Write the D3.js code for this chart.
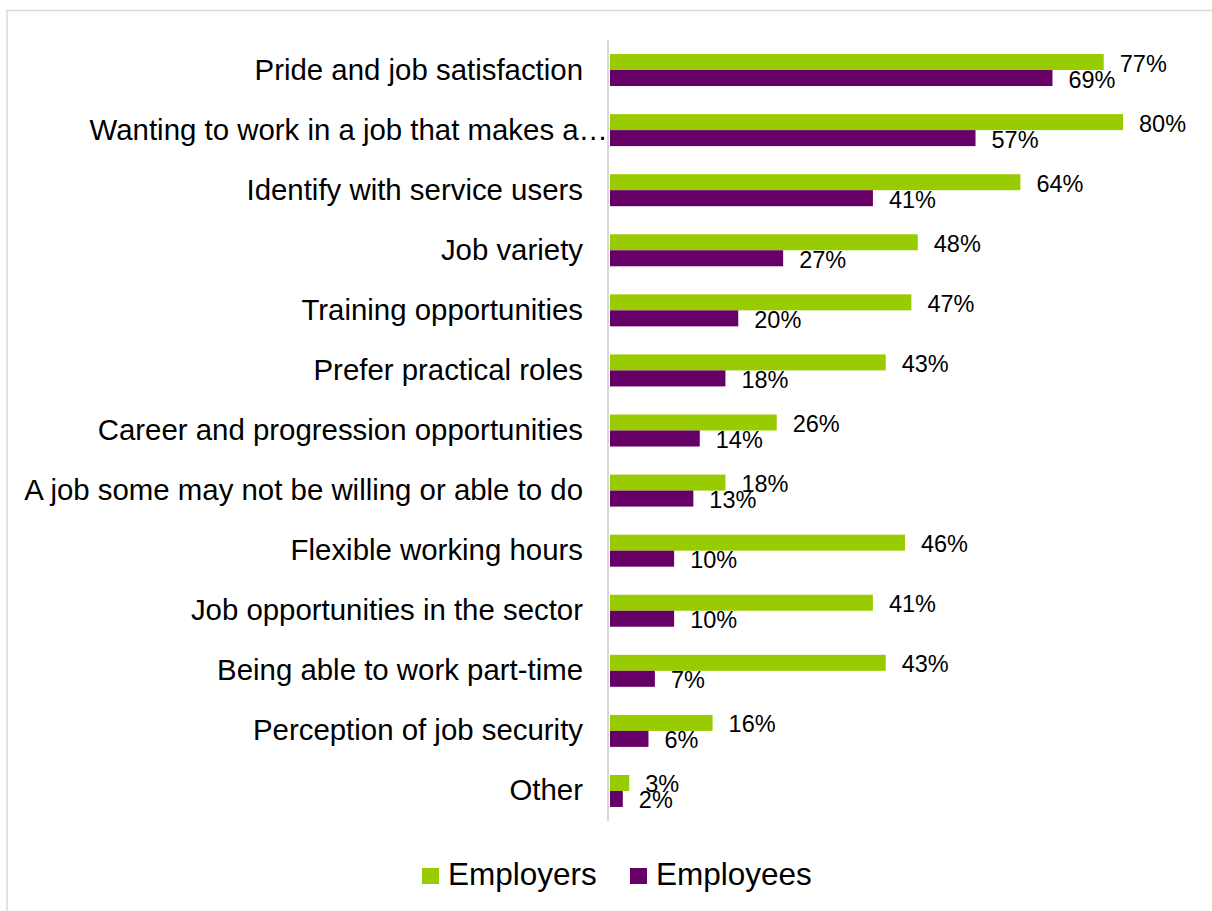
<!DOCTYPE html>
<html>
<head>
<meta charset="utf-8">
<script src="https://cdn.jsdelivr.net/npm/d3@7"></script>
<style>
  html, body { margin: 0; padding: 0; background: #ffffff; }
  svg { display: block; }
  text { font-family: "Liberation Sans", Arial, sans-serif; fill: #000; }
</style>
</head>
<body>
<svg id="chart" width="1212" height="911"></svg>
<script>
const categories = [
  "Pride and job satisfaction",
  "Wanting to work in a job that makes a\u2026",
  "Identify with service users",
  "Job variety",
  "Training opportunities",
  "Prefer practical roles",
  "Career and progression opportunities",
  "A job some may not be willing or able to do",
  "Flexible working hours",
  "Job opportunities in the sector",
  "Being able to work part-time",
  "Perception of job security",
  "Other"
];
const employers = [77, 80, 64, 48, 47, 43, 26, 18, 46, 41, 43, 16, 3];
const employees = [69, 57, 41, 27, 20, 18, 14, 13, 10, 10, 7, 6, 2];
const seriesNames = ["Employers", "Employees"];
const seriesColors = ["#99cc00", "#660066"];

const svg = d3.select("#chart");

// outer chart border
svg.append("rect")
  .attr("x", 7).attr("y", 10.5)
  .attr("width", 1230).attr("height", 930)
  .attr("fill", "none").attr("stroke", "#d9d9d9").attr("stroke-width", 1.5);

const x = d3.scaleLinear().domain([0, 80]).range([610, 1123]);
const p = 1 - 32 / 60.08;
const y = d3.scaleBand().domain(categories).range([40, 821])
  .paddingInner(p).paddingOuter(p / 2);
const sub = d3.scaleBand().domain(seriesNames).range([0, y.bandwidth()]);

const rows = categories.map((c, i) => ({ cat: c, vals: [employers[i], employees[i]] }));

const g = svg.append("g");
rows.forEach(r => {
  r.vals.forEach((v, j) => {
    const yy = y(r.cat) + sub(seriesNames[j]);
    g.append("rect")
      .attr("x", x(0))
      .attr("y", yy)
      .attr("width", x(v) - x(0))
      .attr("height", sub.bandwidth())
      .attr("fill", seriesColors[j]);
  });
});

// axis line
svg.append("line")
  .attr("x1", 608).attr("x2", 608)
  .attr("y1", 40).attr("y2", 821)
  .attr("stroke", "#d9d9d9").attr("stroke-width", 2);

// value labels
rows.forEach(r => {
  r.vals.forEach((v, j) => {
    const cy = y(r.cat) + sub(seriesNames[j]) + sub.bandwidth() / 2;
    svg.append("text")
      .attr("x", x(v) + 16)
      .attr("y", cy + 9.5)
      .attr("font-size", "23.5px")
      .text(v + "%");
  });
});

// category labels
categories.forEach(c => {
  const t = svg.append("text")
    .attr("x", 583)
    .attr("y", y(c) + y.bandwidth() / 2 + 9.5)
    .attr("text-anchor", "end")
    .attr("font-size", "29.4px")
    .text(c);
  if (c.endsWith("\u2026")) {
    const node = t.node();
    const n = c.length;
    const w = node.getSubStringLength(n - 1, 1);
    t.attr("x", 583 + w * 0.85);
  }
});

// legend
const legend = [
  { name: seriesNames[0], color: seriesColors[0], sx: 422, tx: 448 },
  { name: seriesNames[1], color: seriesColors[1], sx: 630, tx: 656 }
];
legend.forEach(l => {
  svg.append("rect").attr("x", l.sx).attr("y", 868).attr("width", 17).attr("height", 16).attr("fill", l.color);
  svg.append("text").attr("x", l.tx).attr("y", 885).attr("font-size", "31.5px").text(l.name);
});
</script>
</body>
</html>
